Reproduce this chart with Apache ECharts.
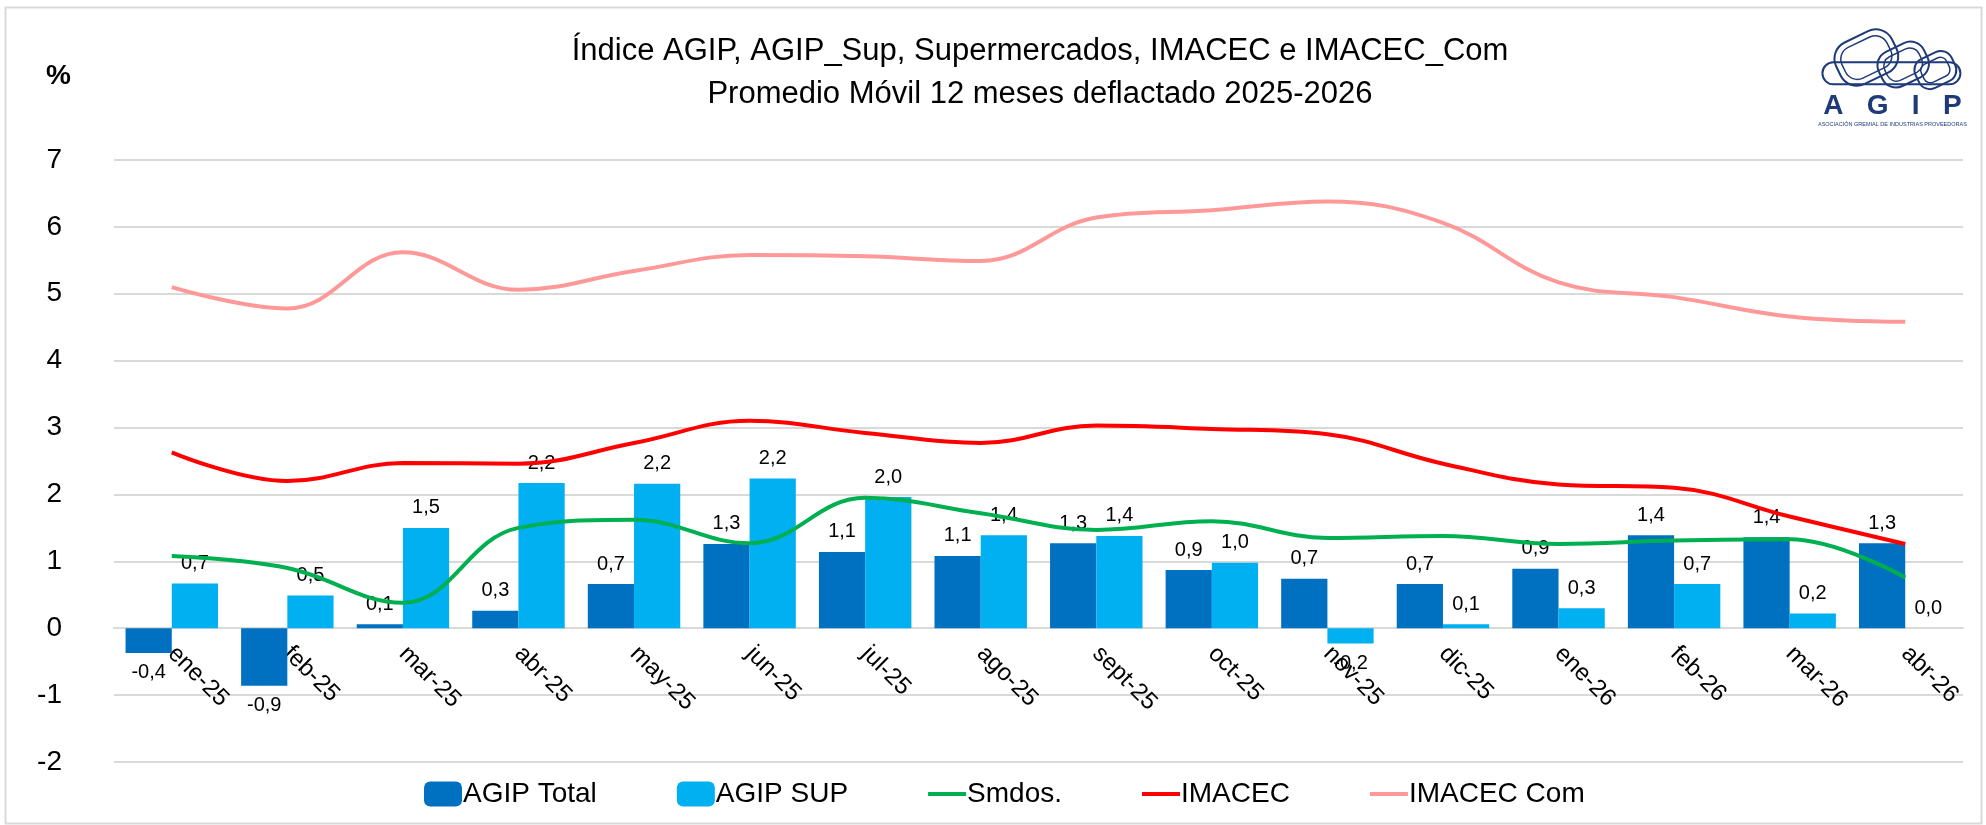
<!DOCTYPE html>
<html>
<head>
<meta charset="utf-8">
<script src="https://cdn.jsdelivr.net/npm/echarts@6/dist/echarts.min.js"></script>
<style>
  html, body { margin: 0; padding: 0; background: #fff; }
  #chart { width: 1986px; height: 825px; }
</style>
</head>
<body>
<div id="chart"></div>
<script>
// datos
const categories = ["ene-25", "feb-25", "mar-25", "abr-25", "may-25", "jun-25", "jul-25", "ago-25",
  "sept-25", "oct-25", "nov-25", "dic-25", "ene-26", "feb-26", "mar-26", "abr-26"];
const agipTotal = [-0.37, -0.86, 0.06, 0.26, 0.66, 1.26, 1.14, 1.08, 1.27, 0.87, 0.74, 0.66, 0.89, 1.39, 1.36, 1.27];
const agipSup = [0.67, 0.49, 1.5, 2.17, 2.16, 2.24, 1.96, 1.39, 1.38, 0.98, -0.23, 0.06, 0.3, 0.66, 0.22, 0.0];
const smdos = [1.08, 0.9, 0.38, 1.5, 1.62, 1.27, 1.95, 1.72, 1.47, 1.6, 1.35, 1.38, 1.26, 1.31, 1.33, 0.76];
const imacec = [2.63, 2.2, 2.47, 2.46, 2.77, 3.1, 2.92, 2.77, 3.03, 2.98, 2.9, 2.46, 2.15, 2.1, 1.67, 1.26];
const imacecCom = [5.1, 4.78, 5.62, 5.06, 5.34, 5.58, 5.56, 5.49, 6.14, 6.25, 6.38, 6.06, 5.17, 4.95, 4.66, 4.58];

const FONT = "'Liberation Sans', sans-serif";
const LOGO = "#1F3A7A";
const LINE_ICON = "path://M0,0H40V4H0Z";

function fmt(p) {
  return Number(p.value).toFixed(1).replace(".", ",");
}
// etiqueta bajo la barra cuando el valor es negativo
function barData(arr) {
  return arr.map(v => (v < 0 ? { value: v, label: { position: "bottom" } } : v));
}
// un eslabón del logo (doble contorno)
function loop(x, y, w, h, r, rot) {
  return {
    type: "group", x: x, y: y, rotation: rot,
    children: [
      { type: "rect", shape: { x: 0, y: 0, width: w, height: h, r: r }, style: { fill: null, stroke: LOGO, lineWidth: 2 } },
      { type: "rect", shape: { x: 6, y: 6, width: w - 12, height: h - 12, r: r - 5 }, style: { fill: null, stroke: LOGO, lineWidth: 1.5 } }
    ]
  };
}

const chart = echarts.init(document.getElementById("chart"));
let option = null;
option = {
  backgroundColor: "#fff",
  animation: false,
  textStyle: { fontFamily: FONT },
  title: {
    text: "Índice AGIP, AGIP_Sup, Supermercados, IMACEC e IMACEC_Com\nPromedio Móvil 12 meses deflactado 2025-2026",
    left: 1035,
    textAlign: "center",
    top: 25,
    textStyle: { fontFamily: FONT, fontSize: 31, fontWeight: "normal", color: "#000", lineHeight: 43 }
  },
  legend: {
    bottom: 12,
    left: 419,
    itemGap: 80,
    itemWidth: 38,
    itemHeight: 25,
    textStyle: { fontFamily: FONT, fontSize: 28, color: "#000", padding: [0, 0, 0, -4] },
    data: [
      { name: "AGIP Total" },
      { name: "AGIP SUP" },
      { name: "Smdos.", icon: LINE_ICON },
      { name: "IMACEC", icon: LINE_ICON },
      { name: "IMACEC Com", icon: LINE_ICON }
    ]
  },
  grid: { left: 114, right: 23, top: 160, bottom: 63 },
  xAxis: {
    type: "category",
    data: categories,
    offset: -134,
    axisLine: { onZero: false, lineStyle: { color: "#D9D9D9", width: 2 } },
    axisTick: { show: false },
    axisLabel: { rotate: -45, margin: 22, fontSize: 24, color: "#000", fontFamily: FONT, interval: 0 }
  },
  yAxis: {
    type: "value",
    min: -2,
    max: 7,
    interval: 1,
    axisLine: { show: false },
    axisTick: { show: false },
    axisLabel: { fontSize: 28, color: "#000", margin: 52, fontFamily: FONT },
    splitLine: { lineStyle: { color: "#D9D9D9", width: 2 } }
  },
  series: [
    {
      name: "AGIP Total",
      type: "bar",
      data: barData(agipTotal),
      itemStyle: { color: "#0070C0" },
      barGap: "0%",
      barCategoryGap: "20%",
      label: { show: true, position: "top", distance: 10, formatter: fmt, fontSize: 20, color: "#000", fontFamily: FONT }
    },
    {
      name: "AGIP SUP",
      type: "bar",
      data: barData(agipSup),
      itemStyle: { color: "#00B0F0" },
      barGap: "0%",
      barCategoryGap: "20%",
      label: { show: true, position: "top", distance: 10, formatter: fmt, fontSize: 20, color: "#000", fontFamily: FONT }
    },
    {
      name: "Smdos.",
      type: "line",
      data: smdos,
      smooth: 0.4,
      symbol: "none",
      itemStyle: { color: "#00B050" },
      lineStyle: { color: "#00B050", width: 4 }
    },
    {
      name: "IMACEC",
      type: "line",
      data: imacec,
      smooth: 0.4,
      symbol: "none",
      itemStyle: { color: "#FF0000" },
      lineStyle: { color: "#FF0000", width: 4 }
    },
    {
      name: "IMACEC Com",
      type: "line",
      data: imacecCom,
      smooth: 0.4,
      symbol: "none",
      itemStyle: { color: "#FF9999" },
      lineStyle: { color: "#FF9999", width: 4 }
    }
  ],
  graphic: [
    // borde del área del gráfico
    {
      type: "rect",
      left: 3, top: 5,
      shape: { width: 1976, height: 816 },
      style: { fill: null, stroke: "#D9D9D9", lineWidth: 2 },
      silent: true
    },
    {
      type: "text",
      left: 46, top: 62,
      style: { text: "%", fontSize: 28, fontWeight: "bold", fill: "#000", fontFamily: FONT }
    },
    // logo AGIP
    {
      type: "group",
      left: 1818, top: 20,
      children: [
        loop(8, 44, 62, 46, 18, 0.45),
        loop(52, 52, 50, 38, 15, 0.45),
        loop(90, 58, 40, 32, 12, 0.45),
        { type: "rect", shape: { x: 2, y: 56, width: 138, height: 22, r: 11 }, style: { fill: null, stroke: LOGO, lineWidth: 2 } },
        {
          type: "text", x: 72, y: 86,
          style: { text: "A   G   I   P", fontSize: 28, fontWeight: "bold", fill: LOGO, align: "center", fontFamily: FONT }
        },
        {
          type: "text", x: 72, y: 115,
          style: { text: "ASOCIACIÓN GREMIAL DE INDUSTRIAS PROVEEDORAS", fontSize: 5.5, fill: LOGO, align: "center", fontFamily: FONT }
        }
      ]
    }
  ]
};
if (option && typeof option === "object") {
  chart.setOption(option, true);
}
</script>
</body>
</html>
